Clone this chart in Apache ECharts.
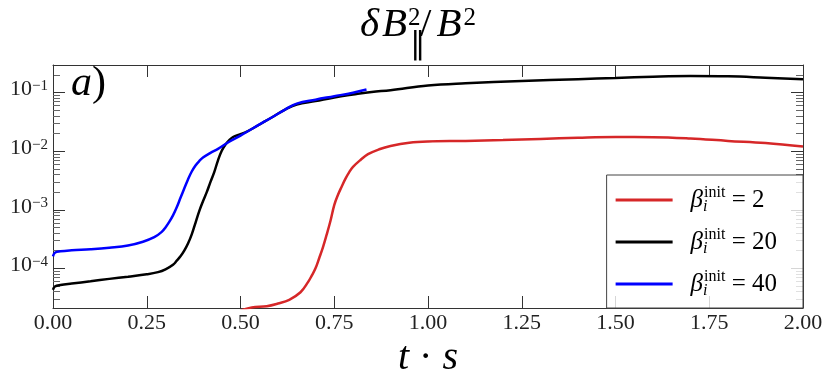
<!DOCTYPE html>
<html>
<head>
<meta charset="utf-8">
<script src="https://cdn.jsdelivr.net/npm/echarts@6/dist/echarts.min.js"></script>
<style>
  html, body { margin: 0; padding: 0; background: #fff; }
  #chart { width: 830px; height: 384px; }
</style>
</head>
<body>
<div id="chart"></div>
<script>
// beta_i^init = 2
var tRed = [0.50, 0.53, 0.57, 0.60, 0.63, 0.66, 0.68, 0.69, 0.70, 0.71, 0.72, 0.73, 0.74, 0.75, 0.76, 0.77, 0.78, 0.79, 0.80, 0.82, 0.84, 0.87, 0.90, 0.95, 1.00, 1.10, 1.20, 1.30, 1.40, 1.50, 1.60, 1.70, 1.80, 1.90, 2.00]
var vRed = [1.9e-5, 2.15e-5, 2.25e-5, 2.5e-5, 2.9e-5, 3.9e-5, 5.8e-5, 7.5e-5, 1.0e-4, 1.5e-4, 2.3e-4, 3.8e-4, 6.5e-4, 1.2e-3, 1.8e-3, 2.5e-3, 3.4e-3, 4.4e-3, 5.4e-3, 7.1e-3, 8.9e-3, 1.08e-2, 1.23e-2, 1.4e-2, 1.47e-2, 1.5e-2, 1.55e-2, 1.62e-2, 1.7e-2, 1.75e-2, 1.74e-2, 1.65e-2, 1.5e-2, 1.38e-2, 1.2e-2]

// beta_i^init = 20
var tBlack = [0, 0.005, 0.02, 0.05, 0.10, 0.15, 0.20, 0.25, 0.28, 0.30, 0.32, 0.33, 0.34, 0.35, 0.36, 0.37, 0.38, 0.39, 0.40, 0.41, 0.42, 0.43, 0.44, 0.45, 0.46, 0.47, 0.48, 0.50, 0.517, 0.53, 0.56, 0.59, 0.62, 0.65, 0.70, 0.75, 0.80, 0.85, 0.90, 1.00, 1.10, 1.25, 1.40, 1.50, 1.60, 1.70, 1.80, 1.90, 2.00]
var vBlack = [4.3e-5, 4.9e-5, 5.2e-5, 5.5e-5, 6.0e-5, 6.6e-5, 7.2e-5, 7.9e-5, 8.6e-5, 9.6e-5, 1.15e-4, 1.35e-4, 1.6e-4, 2.0e-4, 2.65e-4, 3.8e-4, 6.0e-4, 9.5e-4, 1.4e-3, 2.0e-3, 3.0e-3, 4.4e-3, 7.0e-3, 1.02e-2, 1.3e-2, 1.55e-2, 1.75e-2, 1.95e-2, 2.16e-2, 2.4e-2, 3.1e-2, 4.0e-2, 5.2e-2, 6.3e-2, 7.2e-2, 8.3e-2, 9.3e-2, 1.03e-1, 1.1e-1, 1.33e-1, 1.45e-1, 1.58e-1, 1.7e-1, 1.78e-1, 1.87e-1, 1.92e-1, 1.9e-1, 1.8e-1, 1.69e-1]

// beta_i^init = 40
var tBlue = [0, 0.005, 0.02, 0.05, 0.10, 0.15, 0.20, 0.24, 0.27, 0.29, 0.30, 0.31, 0.32, 0.33, 0.34, 0.35, 0.36, 0.37, 0.38, 0.39, 0.40, 0.42, 0.44, 0.47, 0.50, 0.53, 0.56, 0.59, 0.62, 0.65, 0.70, 0.75, 0.80, 0.836]
var vBlue = [1.6e-4, 1.85e-4, 1.95e-4, 2.03e-4, 2.12e-4, 2.25e-4, 2.45e-4, 2.85e-4, 3.4e-4, 4.2e-4, 5.0e-4, 6.2e-4, 8.0e-4, 1.1e-3, 1.6e-3, 2.3e-3, 3.3e-3, 4.5e-3, 5.7e-3, 6.8e-3, 7.8e-3, 9.4e-3, 1.1e-2, 1.45e-2, 1.85e-2, 2.4e-2, 3.1e-2, 4.0e-2, 5.2e-2, 6.5e-2, 7.6e-2, 8.7e-2, 1.0e-1, 1.13e-1]

var betaLabels = ['2', '20', '40']
var seriesNames = ['b2', 'b20', 'b40']
var lineColors = ['#d62728', '#000000', '#0000ff']
var yMajor = [1e-4, 1e-3, 1e-2, 1e-1]

var yMin = 2.1e-5
var yMax = 0.297

var yMinor = []
for (var e = -5; e <= -1; e++) {
  for (var k = 2; k <= 9; k++) {
    var v = k * Math.pow(10, e)
    if (v > yMin && v < yMax) yMinor.push(v)
  }
}

function pairs (ts, vs) {
  return ts.map(function (t, i) { return [t, vs[i]] })
}

var serif = 'Liberation Serif'
var axisColor = '#333'

function yAxisDef (pos, ticks, len, showLabel, showLine) {
  return {
    type: 'log',
    logBase: 10,
    position: pos,
    min: yMin,
    max: yMax,
    axisLine: { show: showLine, lineStyle: { color: axisColor, width: 1 } },
    axisTick: {
      show: true, inside: true, length: len, customValues: ticks,
      lineStyle: { color: len > 8 ? axisColor : '#666', width: 1 }
    },
    axisLabel: {
      show: showLabel,
      customValues: yMajor,
      margin: 5,
      formatter: function (val) {
        var ex = Math.round(Math.log10(val))
        return '{b|10}{s|\u2212' + (-ex) + '}'
      },
      rich: {
        b: { fontFamily: serif, fontSize: 22, lineHeight: 28, verticalAlign: 'top', color: '#222' },
        s: { fontFamily: serif, fontSize: 15, lineHeight: 18, verticalAlign: 'top', color: '#222' }
      }
    },
    splitLine: { show: false },
    minorTick: { show: false }
  }
}

function xAxisDef (pos, showLabel) {
  return {
    type: 'value',
    position: pos,
    min: 0,
    max: 2,
    interval: 0.25,
    axisLine: { show: true, lineStyle: { color: axisColor, width: 1 } },
    axisTick: { show: true, inside: true, length: 12, lineStyle: { color: axisColor, width: 1 } },
    axisLabel: {
      show: showLabel,
      margin: 4,
      fontFamily: serif,
      fontSize: 22,
      color: '#222',
      formatter: function (val) { return val.toFixed(2) }
    },
    splitLine: { show: false },
    name: showLabel ? '{i|t}{n| \u00b7 }{i|s}' : '',
    nameLocation: 'middle',
    nameGap: 22,
    nameTextStyle: {
      rich: {
        i: { fontFamily: serif, fontStyle: 'italic', fontSize: 40, lineHeight: 44, color: '#000' },
        n: { fontFamily: serif, fontSize: 40, lineHeight: 44, color: '#000' }
      }
    }
  }
}

var chart = echarts.init(document.getElementById('chart'), null, { renderer: 'canvas' })

var seriesData = [pairs(tRed, vRed), pairs(tBlack, vBlack), pairs(tBlue, vBlue)]

var option = {
  animation: false,
  backgroundColor: '#fff',
  grid: { left: 53, right: 27, top: 65, bottom: 76, containLabel: false },
  xAxis: [xAxisDef('bottom', true), xAxisDef('top', false)],
  yAxis: [
    yAxisDef('left', yMajor, 12, true, true),
    yAxisDef('left', yMinor, 7, false, false),
    yAxisDef('right', yMajor, 12, false, true),
    yAxisDef('right', yMinor, 7, false, false)
  ],
  legend: {
    orient: 'vertical',
    right: 27,
    bottom: 76,
    backgroundColor: 'rgba(255,255,255,0.8)',
    borderColor: '#444',
    borderWidth: 1,
    borderRadius: 0,
    padding: [10, 26, 9, 9],
    icon: 'rect',
    itemWidth: 57,
    itemHeight: 3,
    itemGap: 12,
    formatter: function (name) {
      var idx = seriesNames.indexOf(name)
      return '{g|\u03b2}{sub|i}{sup|init}{m| = ' + betaLabels[idx] + '}'
    },
    textStyle: {
      fontFamily: serif,
      padding: [0, 0, 0, 13],
      rich: {
        g: { fontFamily: serif, fontStyle: 'italic', fontSize: 25, lineHeight: 30, verticalAlign: 'middle', color: '#000' },
        m: { fontFamily: serif, fontSize: 25, lineHeight: 30, verticalAlign: 'middle', color: '#000' },
        sup: { fontFamily: serif, fontSize: 16, lineHeight: 15, verticalAlign: 'top', color: '#000' },
        sub: { fontFamily: serif, fontStyle: 'italic', fontSize: 16, lineHeight: 15, width: 1, verticalAlign: 'bottom', color: '#000' }
      }
    },
    data: seriesNames
  },
  graphic: [{
    type: 'text',
    left: 71,
    top: 63,
    z: 10,
    style: {
      text: '{i|a}{n|)}',
      rich: {
        i: { fontFamily: serif, fontStyle: 'italic', fontSize: 42, fill: '#000' },
        n: { fontFamily: serif, fontSize: 42, fill: '#000' }
      }
    }
  }, {
    type: 'text',
    left: 360,
    top: 5,
    z: 10,
    style: {
      text: '{d|\u03b4}{m|B}{sup|2}{sub|\u2225}{u|/}{m|B}{sup2|2}',
      rich: {
        d: { fontFamily: serif, fontStyle: 'italic', fontSize: 41, padding: [0, 3, 0, 0], verticalAlign: 'top', fill: '#000' },
        m: { fontFamily: serif, fontStyle: 'italic', fontSize: 41, verticalAlign: 'top', fill: '#000' },
        u: { fontFamily: serif, fontSize: 41, padding: [0, 5, 0, 0], verticalAlign: 'top', fill: '#000' },
        sup: { fontFamily: serif, fontSize: 25, padding: [1, 0, 0, 1], width: 1, verticalAlign: 'top', fill: '#000' },
        sup2: { fontFamily: serif, fontSize: 25, padding: [1, 0, 0, 2], verticalAlign: 'top', fill: '#000' },
        sub: { fontFamily: 'DejaVu Sans', fontSize: 31, padding: [25, 9, 0, 1], width: 1, verticalAlign: 'top', fill: '#000' }
      }
    }
  }],
  series: seriesNames.map(function (name, i) {
    return {
      name: name,
      type: 'line',
      xAxisIndex: 0,
      yAxisIndex: 0,
      data: seriesData[i],
      symbol: 'none',
      smooth: 0.4,
      clip: true,
      color: lineColors[i],
      lineStyle: { color: lineColors[i], width: 2.5 },
      z: 2 + i
    }
  })
}

chart.setOption(option)
</script>
</body>
</html>
